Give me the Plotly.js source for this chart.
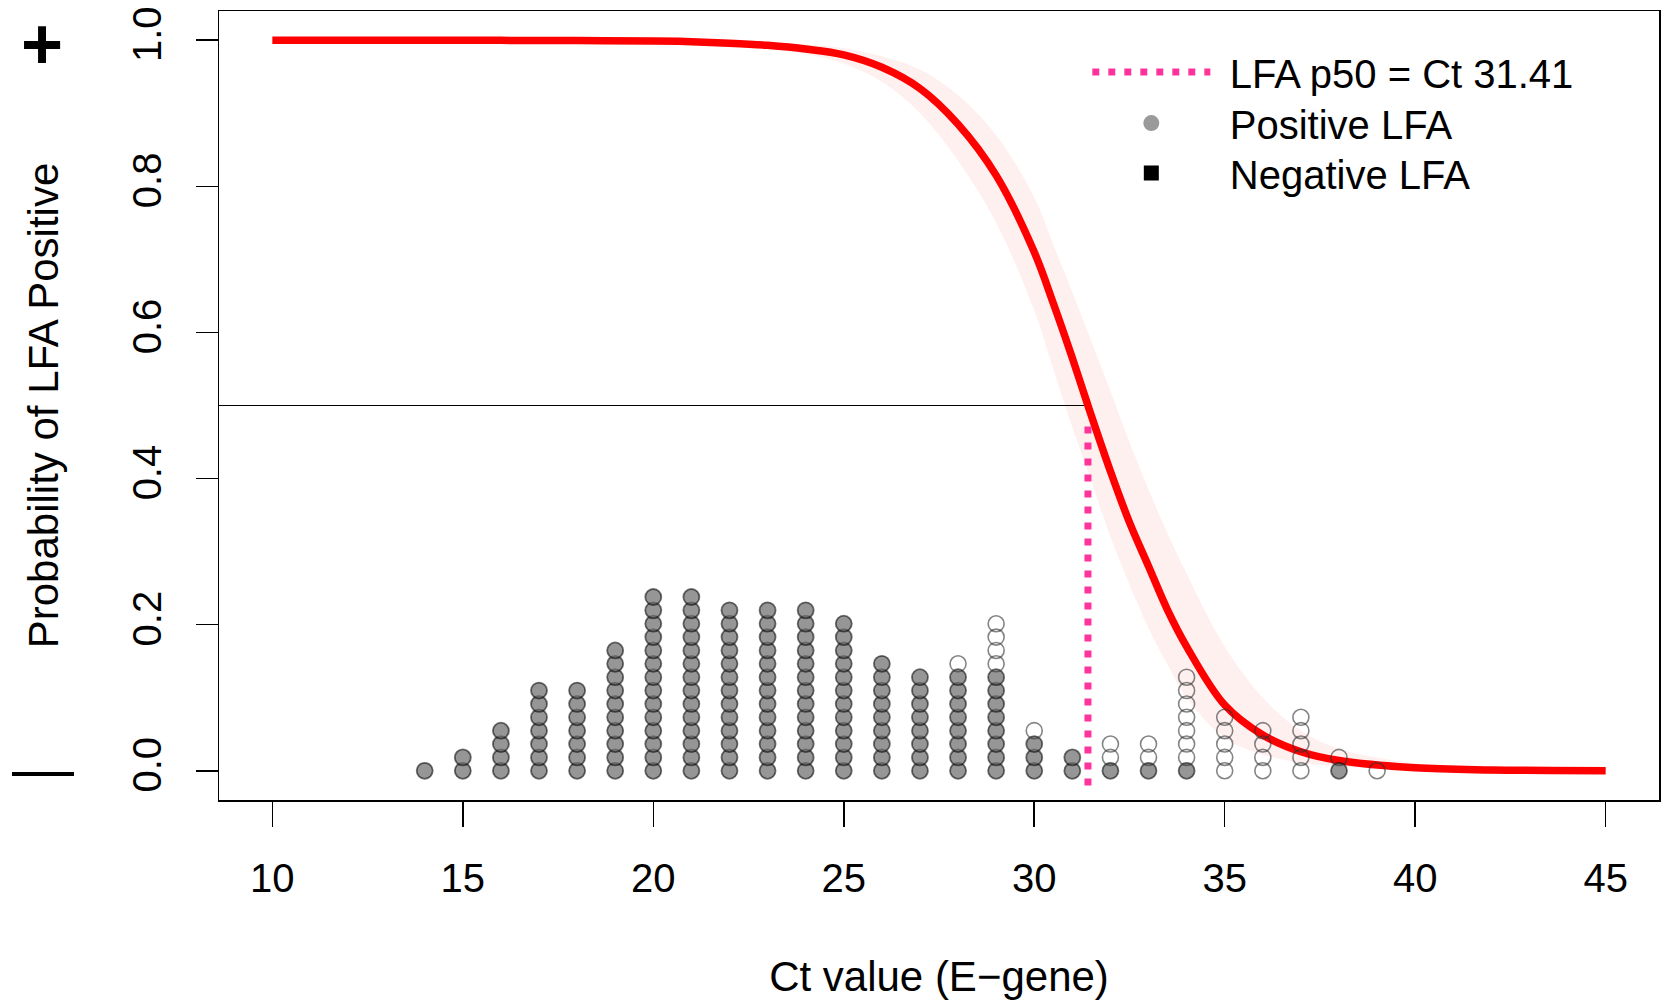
<!DOCTYPE html>
<html>
<head>
<meta charset="utf-8">
<script src="https://cdn.plot.ly/plotly-3.0.1.min.js"></script>
<style>html,body{margin:0;padding:0;background:#fff;}#chart{width:1665px;height:1001px;}</style>
</head>
<body>
<div id="chart"></div>
<script>
// ---- Data ----
const ctValues       = [14,15,16,17,18,19,20,21,22,23,24,25,26,27,28,29,30,31,32,33,34,35,36,37,38,39];
const positiveCounts = [ 1, 2, 4, 7, 7,10,14,14,13,13,13,12, 9, 8, 8, 8, 3, 2, 1, 1, 1, 0, 0, 0, 1, 0];
const negativeCounts = [ 0, 0, 0, 0, 0, 0, 0, 0, 0, 0, 0, 0, 0, 0, 1, 4, 1, 0, 2, 2, 7, 5, 4, 5, 1, 1];
const stackStep = 0.0183;

const curveX     = [10, 12, 14, 16, 18, 20, 21, 22, 23, 24, 25, 26, 27, 28, 29, 30, 30.5, 31, 31.41, 32, 32.5, 33, 33.5, 34, 35, 36, 37, 38, 40, 42, 45];
const curveP     = [1.0, 1.0, 0.9999, 0.9998, 0.9995, 0.999, 0.998, 0.996, 0.993, 0.988, 0.980, 0.963, 0.934, 0.885, 0.815, 0.71, 0.64, 0.565, 0.50, 0.41, 0.34, 0.28, 0.22, 0.17, 0.09, 0.049, 0.026, 0.014, 0.004, 0.0012, 0.0002];
const bandUpperP = [1.0, 1.0, 1.0, 0.9999, 0.9998, 0.9996, 0.9993, 0.998, 0.997, 0.994, 0.989, 0.978, 0.96, 0.925, 0.87, 0.785, 0.72, 0.655, 0.60, 0.52, 0.45, 0.385, 0.325, 0.27, 0.17, 0.10, 0.055, 0.03, 0.01, 0.003, 0.0006];
const bandLowerP = [1.0, 1.0, 0.9998, 0.9995, 0.999, 0.998, 0.996, 0.993, 0.988, 0.981, 0.968, 0.943, 0.90, 0.835, 0.75, 0.63, 0.55, 0.47, 0.41, 0.32, 0.255, 0.195, 0.145, 0.10, 0.045, 0.022, 0.011, 0.006, 0.0015, 0.0004, 0.0001];

const p50Ct = 31.41;
const p50Level = 0.5;
const p50LineY = [-0.02, 0.475];

const xTicks = [10, 15, 20, 25, 30, 35, 40, 45];
const yTicks = [0, 0.2, 0.4, 0.6, 0.8, 1.0];
const yTickText = ['0.0', '0.2', '0.4', '0.6', '0.8', '1.0'];

// ---- Build stacked dot positions from the counts ----
const posX = [], posY = [], negX = [], negY = [];
ctValues.forEach((ct, i) => {
  for (let k = 0; k < positiveCounts[i]; k++) { posX.push(ct); posY.push(k * stackStep); }
  for (let j = 0; j < negativeCounts[i]; j++) { negX.push(ct); negY.push((positiveCounts[i] + j) * stackStep); }
});

const FONT = 'Liberation Sans, Arial, Helvetica, sans-serif';
const SP = '\u00a0\u200a';

const traces = [
  { x: curveX, y: bandLowerP, type: 'scatter', mode: 'lines', line: { width: 0, shape: 'spline', color: 'rgba(0,0,0,0)' }, showlegend: false, hoverinfo: 'skip' },
  { x: curveX, y: bandUpperP, type: 'scatter', mode: 'lines', fill: 'tonexty', fillcolor: 'rgba(250,60,60,0.08)', line: { width: 0, shape: 'spline', color: 'rgba(0,0,0,0)' }, showlegend: false, hoverinfo: 'skip' },
  { x: [0, p50Ct], y: [p50Level, p50Level], type: 'scatter', mode: 'lines', line: { color: '#000', width: 1 }, showlegend: false },
  { x: curveX, y: curveP, type: 'scatter', mode: 'lines', line: { color: '#ff0000', width: 7.5, shape: 'spline' }, showlegend: false },
  { x: [p50Ct, p50Ct], y: p50LineY, type: 'scatter', mode: 'lines', name: SP + 'LFA p50 = Ct 31.41', line: { color: '#ff3399', width: 7, dash: '7px,9px' }, showlegend: true, legend: 'legend' },
  { x: posX, y: posY, type: 'scatter', mode: 'markers', marker: { size: 16, color: 'rgba(110,110,110,0.72)', line: { color: 'rgba(0,0,0,0.55)', width: 1.8 } }, showlegend: false },
  { x: negX, y: negY, type: 'scatter', mode: 'markers', marker: { size: 16, color: 'rgba(255,255,255,0)', line: { color: 'rgba(50,50,50,0.6)', width: 1.6 } }, showlegend: false },
  { x: [null], y: [null], type: 'scatter', mode: 'markers', name: SP + 'Positive LFA', marker: { size: 16, color: '#9a9a9a' }, showlegend: true, legend: 'legend2' },
  { x: [null], y: [null], type: 'scatter', mode: 'markers', name: SP + 'Negative LFA', marker: { size: 15, symbol: 'square', color: '#000' }, showlegend: true, legend: 'legend3' }
];

function legendAt(yPaper) {
  return { x: 0.603, y: yPaper, xanchor: 'left', yanchor: 'middle', bgcolor: 'rgba(0,0,0,0)', borderwidth: 0, font: { size: 40, family: FONT }, itemwidth: 118 };
}

const layout = {
  width: 1665, height: 1001,
  margin: { l: 219, r: 6, t: 11, b: 201 },
  paper_bgcolor: '#fff', plot_bgcolor: '#fff',
  font: { family: FONT, size: 40, color: '#000' },
  showlegend: true,
  legend: legendAt(0.9228),
  legend2: legendAt(0.8579),
  legend3: legendAt(0.7946),
  xaxis: {
    range: [8.6, 46.4], tickmode: 'array', tickvals: xTicks, ticks: 'outside', ticklen: 25, tickwidth: 1.5, tickcolor: '#000',
    showline: true, mirror: true, linecolor: '#000', linewidth: 1.5, showgrid: false, zeroline: false,
    tickfont: { size: 40, family: FONT }, ticklabelstandoff: 17, automargin: false,
    title: { text: 'Ct value (E\u2212gene)', font: { size: 42, family: FONT }, standoff: 63 }
  },
  yaxis: {
    range: [-0.04, 1.04], tickmode: 'array', tickvals: yTicks, ticktext: yTickText, tickangle: -90, ticks: 'outside', ticklen: 22, tickwidth: 1.5, tickcolor: '#000',
    showline: true, mirror: true, linecolor: '#000', linewidth: 1.5, showgrid: false, zeroline: false,
    tickfont: { size: 40, family: FONT }, ticklabelstandoff: 19, automargin: false,
    title: { text: 'Probability of LFA Positive', font: { size: 42, family: FONT }, standoff: 53 }
  },
  annotations: [
    { text: '+', xref: 'paper', yref: 'y', x: -0.123, y: 1.0, yshift: -3.5, showarrow: false, font: { size: 72, family: FONT, color: '#000', weight: 'bold' }, xanchor: 'center', yanchor: 'middle' },
    { text: '\u2014', xref: 'paper', yref: 'y', x: -0.122, y: 0.0, yshift: 2, showarrow: false, font: { size: 62, family: FONT, color: '#000' }, xanchor: 'center', yanchor: 'middle' }
  ]
};

Plotly.newPlot('chart', traces, layout, { displayModeBar: false, staticPlot: true });
</script>
</body>
</html>
